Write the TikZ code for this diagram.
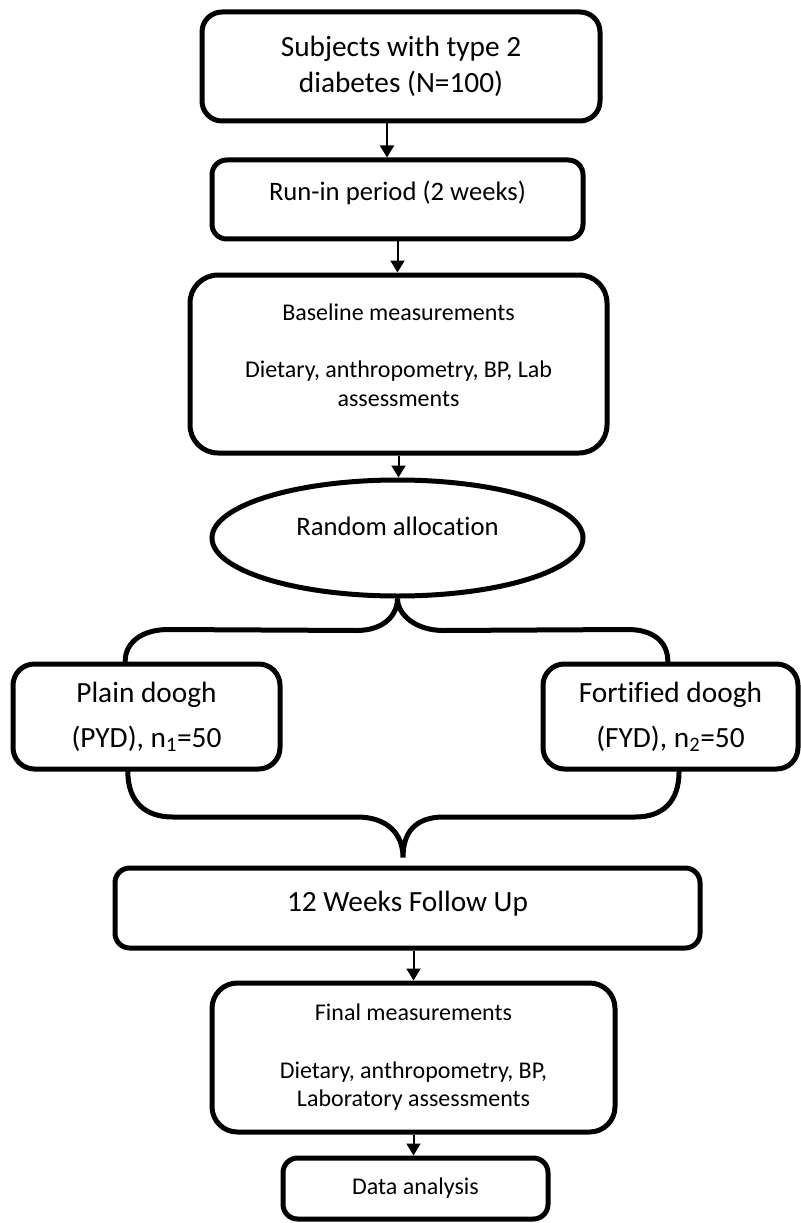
\documentclass[tikz,border=0pt]{standalone}
\usepackage{fontspec}
\setmainfont{Carlito}[Ligatures={NoCommon,NoContextual,NoRare}, Contextuals=NoAlternate]
\usetikzlibrary{shapes.geometric, arrows.meta, calc}

\newcommand{\bigtxt}{\fontsize{22pt}{27pt}\selectfont}
\newcommand{\midtxt}{\fontsize{20pt}{24pt}\selectfont}
\newcommand{\smalltxt}{\fontsize{18pt}{21.5pt}\selectfont}
\newcommand{\dropby}[1]{\rule[-#1]{0pt}{0pt}}

\tikzset{
  stage/.style={draw, line width=3.75pt, rounded corners=#1, align=center, inner sep=0pt},
  stage/.default=15pt,
  arrowline/.style={line width=1.5pt, -{Triangle[width=10.5pt,length=9pt]}},
  splitline/.style={line width=3.75pt, line cap=round},
}

\begin{document}
\begin{tikzpicture}[x=0.75pt, y=-0.75pt]
    \useasboundingbox (0,0) rectangle (800,1223);

    \node[stage=15pt, minimum width=298.5pt, minimum height=81.75pt, font=\bigtxt] (subj) at (401,66.5) {Subjects with type 2\\diabetes (N=100)};
    \node[stage=11pt, minimum width=278.25pt, minimum height=59.25pt, font=\midtxt] (runin) at (397.5,199.5) {Run-in period (2 weeks)\dropby{12.5pt}};
    \node[stage=21pt, minimum width=312.75pt, minimum height=133.5pt, font=\smalltxt] (base) at (398.5,364) {Baseline measurements\\[21.5pt]Dietary, anthropometry, BP, Lab\\assessments\dropby{14pt}};
    \node[draw, ellipse, line width=3.75pt, minimum width=278.25pt, minimum height=87pt, inner sep=0pt, font=\midtxt] (alloc) at (397.5,538) {Random allocat\kern0pt ion\dropby{18pt}};

    \node[stage=16pt, minimum width=200.25pt, minimum height=78.75pt, font=\bigtxt] (plain) at (146.5,716.5) {Plain doogh\\[6.75pt](PYD), n\textsubscript{1}=50};
    \node[stage=16pt, minimum width=191.25pt, minimum height=78.75pt, font=\bigtxt] (fort) at (670.5,716.5) {Fort\kern0pt if\kern0pt ied doogh\\[6.75pt](FYD), n\textsubscript{2}=50};

    \node[stage=11pt, minimum width=438.75pt, minimum height=60pt, font=\bigtxt] (follow) at (407.5,908) {12 Weeks Follow Up\dropby{10pt}};
    \node[stage=19pt, minimum width=302.25pt, minimum height=111.75pt, font=\smalltxt] (final) at (413.5,1057.5) {Final measurements\\[21.5pt]Dietary, anthropometry, BP,\\Laboratory assessments};
    \node[stage=11pt, minimum width=198.75pt, minimum height=45.75pt, font=\smalltxt] (data) at (415.5,1188.5) {Data analysis};

    \coordinate (a1) at ([xshift=-10.5pt]subj.south);
    \draw[arrowline] (a1) -- (a1 |- runin.north);
    \draw[arrowline] (runin.south) -- (runin.south |- base.north);
    \draw[arrowline] (base.south) -- (base.south |- alloc.north);
    \draw[arrowline] (final.north |- follow.south) -- (final.north);
    \draw[arrowline] (final.south) -- (final.south |- data.north);

    \coordinate (ptop) at ([xshift=-16pt]plain.north);
    \coordinate (ftop) at ([xshift=-2pt]fort.north);
    \draw[splitline] (ptop) .. controls +(0,-20) and +(-25,0) .. ($(ptop)+(43,-32)$)
        -- ($(alloc.south)+(-41,32)$) .. controls +(28,0) and +(0,16) .. (alloc.south)
        .. controls +(0,16) and +(-28,0) .. ($(alloc.south)+(46,32)$)
        -- ($(ftop)+(-40,-32)$) .. controls +(25,0) and +(0,-20) .. (ftop);

    \coordinate (pbot) at ([xshift=-14pt]plain.south);
    \coordinate (fbot) at ([xshift=6.4pt]fort.south);
    \coordinate (join) at ($(follow.north)+(-4.5,-8)$);
    \draw[splitline] (pbot) .. controls +(0,30) and +(-28,0) .. ($(pbot)+(45,45.5)$)
        -- ($(join)+(-46,-40.5)$) .. controls +(30,0) and +(0,-24) .. (join)
        .. controls +(0,-24) and +(-30,0) .. ($(join)+(41,-40.5)$)
        -- ($(fbot)+(-44,45.5)$) .. controls +(28,0) and +(0,30) .. (fbot);
\end{tikzpicture}
\end{document}
